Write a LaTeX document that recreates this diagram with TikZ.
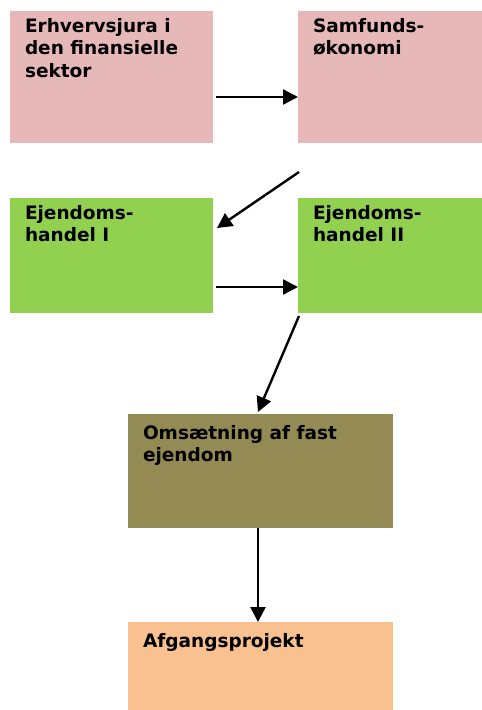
\documentclass[tikz,border=0pt]{standalone}
\usepackage{fontspec}
\setmainfont{DejaVu Sans}
\usetikzlibrary{calc,arrows.meta}
\definecolor{pinkbox}{HTML}{E6B8B7}
\definecolor{greenbox}{HTML}{92D050}
\definecolor{olivebox}{HTML}{948A54}
\definecolor{orangebox}{HTML}{F9C090}
\begin{document}
\begin{tikzpicture}[x=1pt,y=-1pt,
  box/.style={rectangle, inner sep=0pt, outer sep=0pt, draw=none, anchor=north west},
  lbl/.style={inner sep=0pt, outer sep=0pt, anchor=north west, align=left,
    font=\fontsize{18.5}{22.8}\selectfont\bfseries},
  conn/.style={line width=2.4pt, -{Triangle[length=15pt,width=15pt]}}]
\useasboundingbox (0,0) rectangle (482,710);
\node[box, fill=pinkbox, minimum width=203pt, minimum height=132pt] (b1) at (10,11) {};
\node[box, fill=pinkbox, minimum width=184pt, minimum height=132pt] (b2) at (298,11) {};
\node[box, fill=greenbox, minimum width=203pt, minimum height=115pt] (b3) at (10,198) {};
\node[box, fill=greenbox, minimum width=184pt, minimum height=115pt] (b4) at (298,198) {};
\node[box, fill=olivebox, minimum width=265pt, minimum height=114pt] (b5) at (128,414) {};
\node[box, fill=orangebox, minimum width=265pt, minimum height=88pt] (b6) at (128,622) {};
\node[lbl] (t1) at ($(b1.north west)+(15,7)$) {Erhvervsjura i\\den finansielle\\sektor};
\node[lbl] (t2) at ($(b2.north west)+(15,7)$) {Samfunds-\\økonomi};
\node[lbl] (t3) at ($(b3.north west)+(15,7)$) {Ejendoms-\\handel I};
\node[lbl] (t4) at ($(b4.north west)+(15,7)$) {Ejendoms-\\handel II};
\node[lbl] (t5) at ($(b5.north west)+(15,11)$) {Omsætning af fast\\ejendom};
\node[lbl] (t6) at ($(b6.north west)+(15,11)$) {Afgangsprojekt};
\coordinate (a1s) at ($(b1.north east)+(3,86)$);
\coordinate (a2s) at ($(b2.south west)+(1,29)$);
\coordinate (a2e) at ($(b3.north east)+(4,30)$);
\coordinate (a3s) at ($(b3.north east)+(3,89)$);
\coordinate (a4s) at ($(b4.south west)+(1,3)$);
\draw[conn] (a1s) -- (a1s -| b2.west);
\draw[conn] (a2s) -- (a2e);
\draw[conn] (a3s) -- (a3s -| b4.west);
\draw[conn] (a4s) -- ($(b5.north west)+(130,-2)$);
\draw[conn] ($(b5.south west)+(130,0)$) -- ($(b6.north west)+(130,0)$);
\end{tikzpicture}
\end{document}
